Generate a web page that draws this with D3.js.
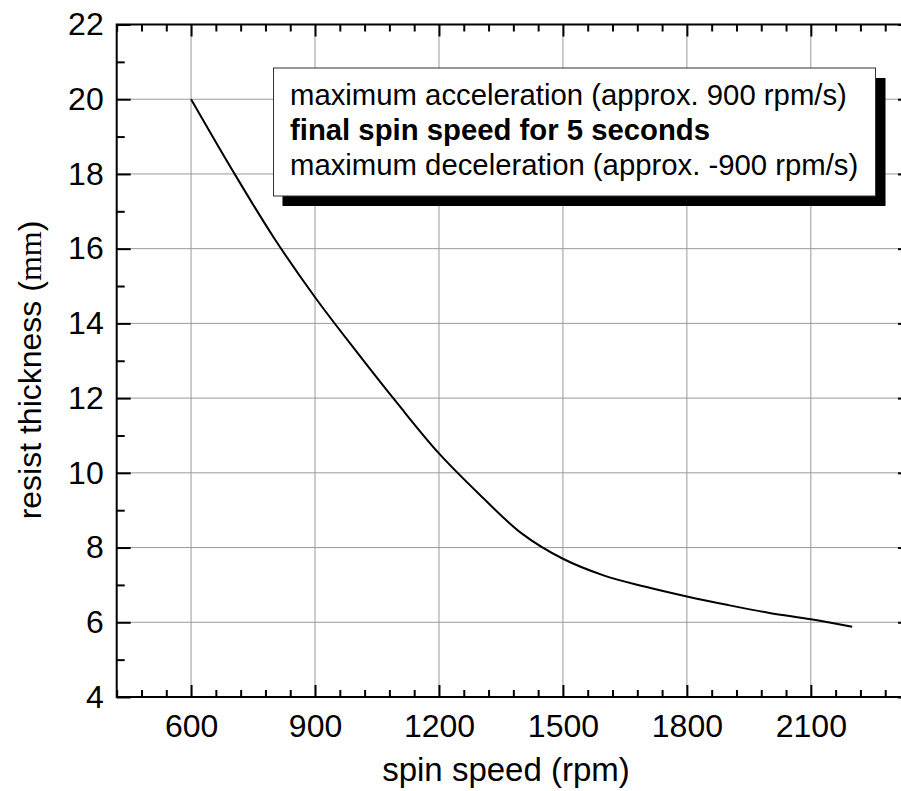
<!DOCTYPE html>
<html>
<head>
<meta charset="utf-8">
<script src="https://cdn.jsdelivr.net/npm/d3@7"></script>
<style>
  body { margin: 0; background: #fff; }
  svg { display: block; font-family: "Liberation Sans", Arial, sans-serif; }
</style>
</head>
<body>
<svg id="chart" width="901" height="791"></svg>
<script>
// spin curve
var spinSpeed = [600, 700, 800, 900, 1000, 1100, 1200, 1300, 1400, 1500, 1600, 1700, 1800, 1900, 2000, 2100, 2200];
var thickness = [20.0, 18.1, 16.3, 14.7, 13.25, 11.85, 10.52, 9.4, 8.38, 7.7, 7.25, 6.95, 6.69, 6.46, 6.25, 6.08, 5.88];

var xTicks = [600, 900, 1200, 1500, 1800, 2100];
var yTicks = [4, 6, 8, 10, 12, 14, 16, 18, 20, 22];
var legendLines = [
  "maximum acceleration (approx. 900 rpm/s)",
  "final spin speed for 5 seconds",
  "maximum deceleration (approx. -900 rpm/s)"
];

var plotL = 116.7, plotT = 24.5, plotR = 910, plotB = 697;

var svg = d3.select("#chart");

var x = d3.scaleLinear().domain([420, 2340]).range([plotL, plotR]);
var y = d3.scaleLinear().domain([4, 22]).range([plotB, plotT]);

var xMinor = d3.range(420, 2341, 60).filter(function (v) { return xTicks.indexOf(v) < 0; });
var yMinor = d3.range(5, 22, 2);

// grid
var grid = svg.append("g").attr("stroke", "#9a9a9a").attr("stroke-width", 1);
grid.selectAll(".gx").data(xTicks).enter().append("line")
  .attr("x1", function (d) { return x(d); }).attr("x2", function (d) { return x(d); })
  .attr("y1", plotT).attr("y2", plotB);
grid.selectAll(".gy").data(yTicks.slice(1, -1)).enter().append("line")
  .attr("y1", function (d) { return y(d); }).attr("y2", function (d) { return y(d); })
  .attr("x1", plotL).attr("x2", plotR);

// curve
var line = d3.line()
  .x(function (d, i) { return x(spinSpeed[i]); })
  .y(function (d) { return y(d); })
  .curve(d3.curveCatmullRom.alpha(0.5));

svg.append("path")
  .datum(thickness)
  .attr("fill", "none")
  .attr("stroke", "#000")
  .attr("stroke-width", 2)
  .attr("d", line);

// legend box with drop shadow
var lg = svg.append("g");
lg.append("rect").attr("x", 282.5).attr("y", 78).attr("width", 603).attr("height", 128).attr("fill", "#000");
lg.append("rect").attr("x", 273.5).attr("y", 68).attr("width", 602).attr("height", 128)
  .attr("fill", "#fff").attr("stroke", "#333").attr("stroke-width", 1);
lg.selectAll("text").data(legendLines).enter().append("text")
  .attr("x", 290)
  .attr("y", function (d, i) { return 105 + i * 35.2; })
  .attr("font-size", 29.3)
  .attr("font-weight", function (d, i) { return i === 1 ? "bold" : "normal"; })
  .text(function (d) { return d; });

// axes
function styleAxis(g) {
  g.select(".domain").remove();
  g.selectAll(".tick line").attr("stroke", "#000").attr("stroke-width", 2);
  g.selectAll("text").attr("font-size", 32).attr("fill", "#000")
    .attr("font-family", "'Liberation Sans', Arial, sans-serif");
}

svg.append("g").attr("transform", "translate(0," + plotB + ")")
  .call(d3.axisBottom(x).tickValues(xTicks).tickSize(-12).tickPadding(17).tickFormat(d3.format("d")))
  .call(styleAxis);
svg.append("g").attr("transform", "translate(0," + plotB + ")")
  .call(d3.axisBottom(x).tickValues(xMinor).tickSize(-7).tickFormat(""))
  .call(styleAxis);
svg.append("g").attr("transform", "translate(0," + plotT + ")")
  .call(d3.axisTop(x).tickValues(xTicks).tickSize(-12).tickFormat(""))
  .call(styleAxis);
svg.append("g").attr("transform", "translate(0," + plotT + ")")
  .call(d3.axisTop(x).tickValues(xMinor).tickSize(-7).tickFormat(""))
  .call(styleAxis);

svg.append("g").attr("transform", "translate(" + plotL + ",0)")
  .call(d3.axisLeft(y).tickValues(yTicks).tickSize(-14).tickPadding(13))
  .call(styleAxis);
svg.append("g").attr("transform", "translate(" + plotL + ",0)")
  .call(d3.axisLeft(y).tickValues(yMinor).tickSize(-8).tickFormat(""))
  .call(styleAxis);
svg.append("g").attr("transform", "translate(" + plotR + ",0)")
  .call(d3.axisRight(y).tickValues(yTicks).tickSize(-12).tickFormat(""))
  .call(styleAxis);
svg.append("g").attr("transform", "translate(" + plotR + ",0)")
  .call(d3.axisRight(y).tickValues(yMinor).tickSize(-7).tickFormat(""))
  .call(styleAxis);

// frame
svg.append("rect")
  .attr("x", plotL).attr("y", plotT)
  .attr("width", plotR - plotL).attr("height", plotB - plotT)
  .attr("fill", "none").attr("stroke", "#000").attr("stroke-width", 2);

// axis titles
svg.append("text")
  .attr("x", 506).attr("y", 781)
  .attr("text-anchor", "middle")
  .attr("font-size", 33)
  .text("spin speed (rpm)");

var yl = svg.append("text")
  .attr("transform", "translate(41,370) rotate(-90)")
  .attr("text-anchor", "middle")
  .attr("font-size", 32);
yl.append("tspan").text("resist thickness (");
yl.append("tspan").attr("font-family", "'Liberation Serif', serif").text("mm");
yl.append("tspan").text(")");
</script>
</body>
</html>
